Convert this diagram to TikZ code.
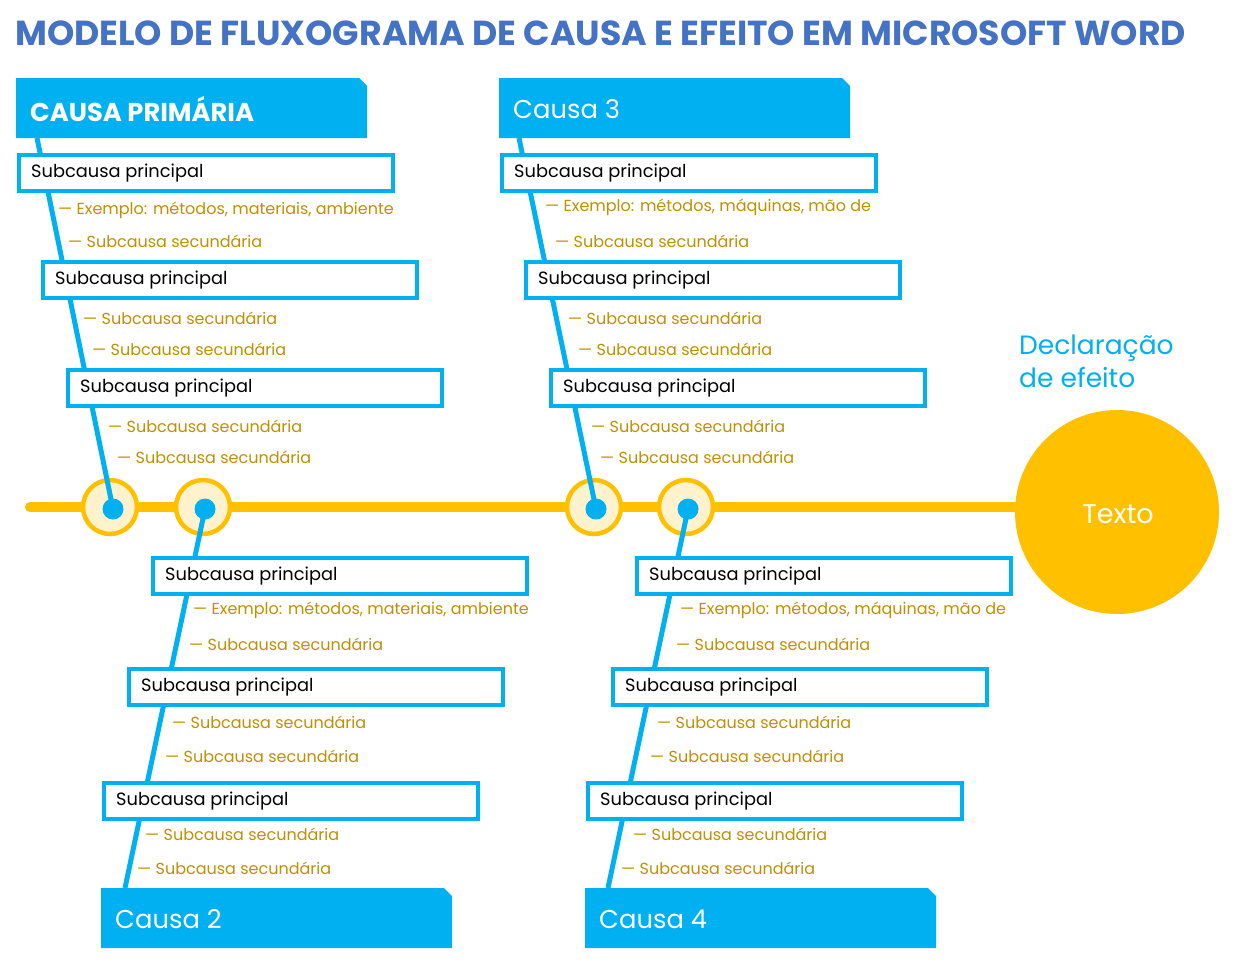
\documentclass[tikz,border=0pt]{standalone}
\usepackage{fontspec}
\setmainfont{Poppins}
\usetikzlibrary{positioning,calc}
\definecolor{titleblue}{HTML}{4472C4}
\definecolor{causeblue}{HTML}{00B0F0}
\definecolor{spineyellow}{HTML}{FFC000}
\definecolor{paleyellow}{HTML}{FFF2CC}
\definecolor{subgold}{HTML}{BF9000}
\tikzset{
  mainbox/.style={draw=causeblue,line width=3.5pt,fill=white,minimum width=374pt,minimum height=36pt,anchor=north west,inner sep=0pt},
  maintext/.style={anchor=west,font=\fontsize{17.8}{20}\selectfont,inner sep=0pt},
  subtext/.style={anchor=west,text=subgold,font=\fontsize{16}{18}\selectfont,inner sep=0pt},
  bone/.style={causeblue,line width=5pt},
  joint/.style={circle,draw=spineyellow,line width=4.5pt,fill=paleyellow,minimum size=54pt,inner sep=0pt},
  dot/.style={circle,fill=causeblue,minimum size=21pt,inner sep=0pt},
  headtext/.style={anchor=west,text=white,font=\fontsize{25.8}{28}\selectfont,inner sep=0pt}
}
\newcommand{\headbox}[3]{% name, x, y (top-left)
  \fill[causeblue] (#2,#3) -- ++(343,0) -- ++(8,8) -- ++(0,52) -- ++(-351,0) -- cycle;
  \coordinate (#1) at (#2,#3);}
\begin{document}
\begin{tikzpicture}[x=1pt,y=-1pt]
  \useasboundingbox[fill=white] (0,0) rectangle (1241,967);
  % title
  \node[anchor=west,text=titleblue,font=\bfseries\fontsize{34.7}{38}\selectfont,inner sep=0pt] (title) at (15,33)
    {MODELO DE FLUXOGRAMA DE CAUSA E EFEITO EM MICROSOFT WORD};

  % spine and effect
  \node[circle,fill=spineyellow,minimum size=204pt,inner sep=0pt] (effect) at (1117,512) {};
  \node[text=white,font=\fontsize{27}{30}\selectfont] (efftext) at (1118,514) {Texto};
  \coordinate (tail) at (30,507);
  \draw[spineyellow,line width=10pt,line cap=round] (tail) -- (effect.west |- tail);
  \node[anchor=west,text=causeblue,font=\fontsize{26.5}{33}\selectfont,align=left,inner sep=0pt] (decl) at (1019,361)
    {Declaração\\de efeito};

  % heads
  \headbox{hA}{16}{78}
  \headbox{hC}{499}{78}
  \headbox{hB}{101}{888}
  \headbox{hD}{585}{888}
  \node[headtext,font=\bfseries\fontsize{25.8}{28}\selectfont] (tA) at (30,109) {CAUSA PRIMÁRIA};
  \node[headtext] (tC) at (513,109) {Causa 3};
  \node[headtext] (tB) at (115,919) {Causa 2};
  \node[headtext] (tD) at (599,919) {Causa 4};

  % joints
  \foreach \n/\x in {jA/110,jB/203,jC/594,jD/686}
    \node[joint] (\n) at (\x,507) {};
  \foreach \n/\x in {dA/113,dB/205,dC/596,dD/688}
    \node[dot] (\n) at (\x,509) {};

  % bones
  \coordinate (bA) at (37,138);
  \coordinate (bC) at (519,138);
  \coordinate (bB) at (125,888);
  \coordinate (bD) at (608,888);
  \draw[bone] (bA) -- (dA.center);
  \draw[bone] (bC) -- (dC.center);
  \draw[bone] (dB.center) -- (bB);
  \draw[bone] (dD.center) -- (bD);

  % main sub-causes
  \foreach \n/\x/\y in {mA1/17/153,mA2/41/260,mA3/66/368,
                        mC1/500/153,mC2/524/260,mC3/549/368,
                        mB1/151/556,mB2/127/667,mB3/102/781,
                        mD1/635/556,mD2/611/667,mD3/586/781}
  {
    \node[mainbox] (\n) at (\x,\y) {};
    \node[maintext] at ($(\n.west)+(14,0)$) {Subcausa principal};
  }

  % secondary sub-causes
  \foreach \n/\x/\y in {sA2/68/241,sA3/83/318,sA4/92/349,sA5/108/426,sA6/117/457,
                        sC2/555/241,sC3/568/318,sC4/578/349,sC5/591/426,sC6/600/457,
                        sB2/189/644,sB3/172/722,sB4/165/756,sB5/145/834,sB6/137/868,
                        sD2/676/644,sD3/657/722,sD4/650/756,sD5/633/834,sD6/621/868}
    \node[subtext] (\n) at (\x,\y) {— Subcausa secundária};
  \node[subtext] (sA1) at (58,210) {— Exemplo: métodos, materiais, ambiente};
  \node[subtext] (sB1) at (193,610) {— Exemplo: métodos, materiais, ambiente};
  \node[subtext] (sC1) at (545,207) {— Exemplo: métodos, máquinas, mão de};
  \node[subtext] (sD1) at (680,610) {— Exemplo: métodos, máquinas, mão de};
\end{tikzpicture}
\end{document}
